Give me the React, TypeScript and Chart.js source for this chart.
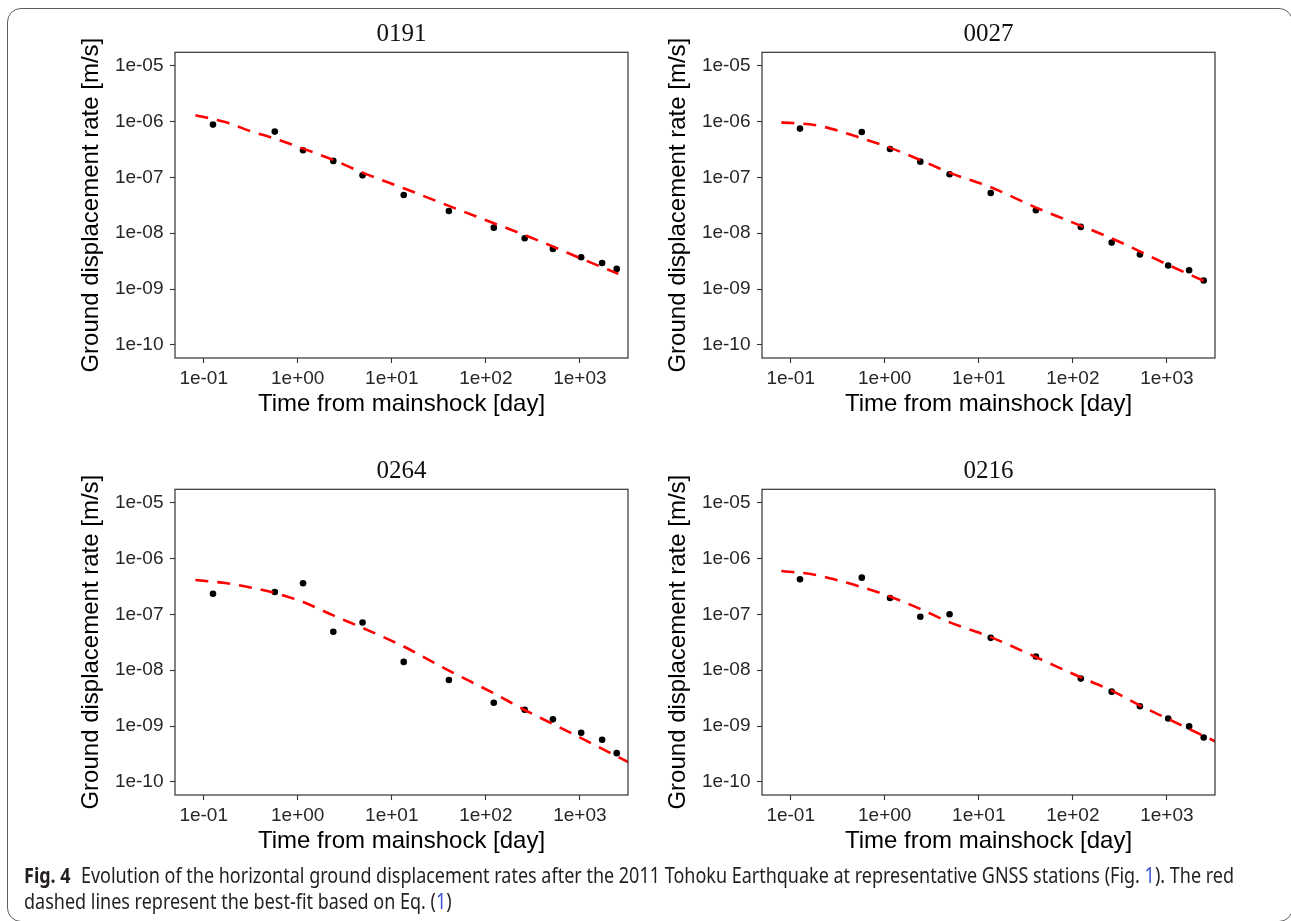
import React, { useEffect, useLayoutEffect, useRef } from 'react';
import { Chart, registerables } from 'chart.js';

Chart.register(...registerables);

// ---- data ----
// observation times [day]
const obsTime = [0.1256, 0.57, 1.139, 2.39, 4.89, 13.4, 40.5, 121.6, 259, 517, 1033, 1725, 2466];

// observed horizontal displacement rates [m/s]
const obs0191 = [8.84e-7, 6.62e-7, 3.07e-7, 1.98e-7, 1.09e-7, 4.86e-8, 2.51e-8, 1.26e-8, 8.13e-9, 5.24e-9, 3.72e-9, 2.94e-9, 2.3e-9];
const obs0027 = [7.5e-7, 6.53e-7, 3.24e-7, 1.92e-7, 1.14e-7, 5.27e-8, 2.58e-8, 1.3e-8, 6.8e-9, 4.15e-9, 2.64e-9, 2.17e-9, 1.42e-9];
const obs0264 = [2.35e-7, 2.52e-7, 3.61e-7, 4.89e-8, 7.18e-8, 1.41e-8, 6.7e-9, 2.62e-9, 1.96e-9, 1.32e-9, 7.6e-10, 5.68e-10, 3.27e-10];
const obs0216 = [4.26e-7, 4.56e-7, 1.97e-7, 9.08e-8, 1.01e-7, 3.81e-8, 1.76e-8, 7.08e-9, 4.14e-9, 2.26e-9, 1.37e-9, 9.87e-10, 6.25e-10];

// best-fit curves (sampled from the red dashed lines)
const fitTime0191 = [0.0817, 0.1766, 0.313, 0.57, 1.14, 2.39, 4.89, 13.4, 40.5, 121.6, 259, 517, 1033, 2570];
const fit0191 = [1.3e-6, 9.6e-7, 6.8e-7, 4.97e-7, 3.28e-7, 2.06e-7, 1.22e-7, 6.4e-8, 3.09e-8, 1.51e-8, 9.3e-9, 5.77e-9, 3.52e-9, 1.87e-9];

const fitTime0027 = [0.0796, 0.18, 0.318, 0.566, 1.13, 2.38, 4.86, 13.4, 40.7, 121, 259, 521, 1033, 2570];
const fit0027 = [9.7e-7, 8.7e-7, 6.9e-7, 5.03e-7, 3.42e-7, 2.06e-7, 1.22e-7, 6.67e-8, 2.88e-8, 1.37e-8, 8.1e-9, 4.7e-9, 2.71e-9, 1.36e-9];

const fitTime0264 = [0.0816, 0.1766, 0.313, 0.57, 1.14, 2.39, 4.89, 13.4, 40.5, 121.6, 259, 517, 1033, 3334];
const fit0264 = [4.14e-7, 3.61e-7, 3.05e-7, 2.42e-7, 1.67e-7, 9.6e-8, 5.75e-8, 2.66e-8, 9.87e-9, 3.86e-9, 1.94e-9, 1.09e-9, 6.09e-10, 2.22e-10];

const fitTime0216 = [0.0796, 0.18, 0.318, 0.566, 1.13, 2.38, 4.86, 13.4, 40.7, 121, 259, 521, 1033, 3281];
const fit0216 = [6.0e-7, 5.16e-7, 4.08e-7, 3.1e-7, 2.1e-7, 1.26e-7, 7.28e-8, 3.92e-8, 1.71e-8, 7.48e-9, 4.32e-9, 2.32e-9, 1.34e-9, 5.3e-10];

const xTickValues = [0.1, 1, 10, 100, 1000];
const xTickLabels = ['1e-01', '1e+00', '1e+01', '1e+02', '1e+03'];
const yTickValues = [1e-10, 1e-9, 1e-8, 1e-7, 1e-6, 1e-5];
const yTickLabels = ['1e-10', '1e-09', '1e-08', '1e-07', '1e-06', '1e-05'];

const xAxisTitle = 'Time from mainshock [day]';
const yAxisTitle = 'Ground displacement rate [m/s]';

const stationNames = ['0191', '0027', '0264', '0216'];

// ---- layout ----
const CW = 562;
const CH = 413;
const X_MIN = Math.pow(10, -1.305);
const X_MAX = Math.pow(10, 3.512);
const Y_MIN = Math.pow(10, -10.235);
const Y_MAX = Math.pow(10, -4.758);
const SANS = "'Liberation Sans', Arial, Helvetica, sans-serif";

function labelFor(values: number[], labels: string[], v: number): string {
  const i = values.findIndex((t) => Math.abs(Math.log10(t) - Math.log10(v)) < 1e-6);
  return i >= 0 ? labels[i] : '';
}

const boxPlugin = {
  id: 'panelBox',
  afterDatasetsDraw(chart: any) {
    const { ctx, chartArea: a } = chart;
    ctx.save();
    ctx.strokeStyle = '#333333';
    ctx.lineWidth = 1.2;
    ctx.strokeRect(a.left, a.top, a.right - a.left, a.bottom - a.top);
    ctx.restore();
  },
};

type PanelProps = {
  title: string;
  obs: number[];
  fitX: number[];
  fitY: number[];
  left: number;
  top: number;
};

function Panel({ title, obs, fitX, fitY, left, top }: PanelProps) {
  const ref = useRef<HTMLCanvasElement>(null);
  useEffect(() => {
    const tickGrid = {
      display: true,
      drawOnChartArea: false,
      drawTicks: true,
      tickLength: 5,
      tickColor: '#333333',
      tickWidth: 1.1,
    };
    const chart = new Chart(ref.current as HTMLCanvasElement, {
      type: 'scatter',
      data: {
        datasets: [
          {
            type: 'line',
            label: 'fit',
            data: fitX.map((x, i) => ({ x, y: fitY[i] })),
            borderColor: '#ff0000',
            borderWidth: 2.6,
            borderDash: [13, 9],
            pointRadius: 0,
            fill: false,
            cubicInterpolationMode: 'monotone',
            clip: 0,
            order: 0,
          } as any,
          {
            label: 'observed',
            data: obsTime.map((x, i) => ({ x, y: obs[i] })),
            backgroundColor: '#000000',
            borderWidth: 0,
            pointRadius: 3.3,
            showLine: false,
            order: 1,
          },
        ],
      },
      options: {
        responsive: false,
        animation: false,
        devicePixelRatio: 1,
        layout: { padding: { left: 0, right: 2.5, top: 0, bottom: 0 } },
        plugins: {
          legend: { display: false },
          tooltip: { enabled: false },
          title: {
            display: true,
            text: title,
            fullSize: false,
            color: '#111111',
            font: { family: "'Liberation Serif', 'Times New Roman', serif", size: 25, weight: 'normal' },
            padding: { top: 7.8, bottom: 2.5 },
          },
        },
        scales: {
          x: {
            type: 'logarithmic',
            position: 'bottom',
            min: X_MIN,
            max: X_MAX,
            afterBuildTicks: (s: any) => {
              s.ticks = xTickValues.map((v) => ({ value: v }));
            },
            afterFit: (s: any) => {
              s.height = 67;
            },
            ticks: {
              autoSkip: false,
              maxRotation: 0,
              padding: 4,
              color: '#262626',
              font: { family: SANS, size: 19 },
              callback: (v: any) => labelFor(xTickValues, xTickLabels, Number(v)),
            },
            grid: tickGrid,
            border: { display: false },
            title: {
              display: true,
              text: xAxisTitle,
              color: '#000000',
              font: { family: SANS, size: 24 },
              padding: { top: 0, bottom: 6.2 },
            },
          },
          y: {
            type: 'logarithmic',
            position: 'left',
            min: Y_MIN,
            max: Y_MAX,
            afterBuildTicks: (s: any) => {
              s.ticks = yTickValues.map((v) => ({ value: v }));
            },
            afterFit: (s: any) => {
              s.width = 105;
            },
            ticks: {
              autoSkip: false,
              padding: 6.5,
              color: '#262626',
              font: { family: SANS, size: 19 },
              callback: (v: any) => labelFor(yTickValues, yTickLabels, Number(v)),
            },
            grid: tickGrid,
            border: { display: false },
            title: {
              display: true,
              text: yAxisTitle,
              color: '#000000',
              font: { family: SANS, size: 24 },
              padding: { top: 7.2, bottom: 0 },
            },
          },
        },
      } as any,
      plugins: [boxPlugin],
    });
    return () => chart.destroy();
  }, [title, obs, fitX, fitY]);

  return (
    <canvas
      ref={ref}
      width={CW}
      height={CH}
      style={{ position: 'absolute', left, top, width: CW, height: CH }}
    />
  );
}

function Caption() {
  const boxRef = useRef<HTMLDivElement>(null);
  const line1Ref = useRef<HTMLSpanElement>(null);
  useLayoutEffect(() => {
    const fit = () => {
      const el = line1Ref.current;
      const box = boxRef.current;
      if (!el || !box) return;
      const w = el.getBoundingClientRect().width / (box.dataset.scale ? Number(box.dataset.scale) : 1);
      const s = 1210 / w;
      box.dataset.scale = String(s);
      box.style.transform = `scaleX(${s})`;
    };
    fit();
    if ((document as any).fonts && (document as any).fonts.ready) {
      (document as any).fonts.ready.then(fit);
    }
  }, []);
  const blue = { color: '#3b55d6' };
  return (
    <div
      ref={boxRef}
      style={{
        position: 'absolute',
        left: 24,
        top: 862,
        fontFamily: "'Noto Sans', 'Open Sans', sans-serif",
        fontSize: 21,
        lineHeight: '26px',
        color: '#231f20',
        whiteSpace: 'nowrap',
        transformOrigin: '0 0',
      }}
    >
      <span ref={line1Ref} style={{ display: 'inline-block' }}>
        <b>Fig. 4</b>
        <span style={{ display: 'inline-block', width: 12 }} />
        Evolution of the horizontal ground displacement rates after the 2011 Tohoku Earthquake at representative GNSS
        stations (Fig. <span style={blue}>1</span>). The red
      </span>
      <br />
      <span>
        dashed lines represent the best-fit based on Eq. (<span style={blue}>1</span>)
      </span>
    </div>
  );
}

export default function App() {
  const panels = [
    { obs: obs0191, fitX: fitTime0191, fitY: fit0191, left: 70, top: 12 },
    { obs: obs0027, fitX: fitTime0027, fitY: fit0027, left: 657, top: 12 },
    { obs: obs0264, fitX: fitTime0264, fitY: fit0264, left: 70, top: 449 },
    { obs: obs0216, fitX: fitTime0216, fitY: fit0216, left: 657, top: 449 },
  ];
  return (
    <div
      style={{
        position: 'absolute',
        left: 0,
        top: 0,
        width: 1291,
        height: 921,
        overflow: 'hidden',
        background: '#ffffff',
      }}
    >
      <div
        style={{
          position: 'absolute',
          left: 7,
          top: 7.5,
          width: 1285.5,
          height: 914.5,
          border: '1.5px solid #5e5e5e',
          borderRadius: 14,
          boxSizing: 'border-box',
        }}
      />
      {panels.map((p, i) => (
        <Panel key={stationNames[i]} title={stationNames[i]} {...p} />
      ))}
      <Caption />
    </div>
  );
}
